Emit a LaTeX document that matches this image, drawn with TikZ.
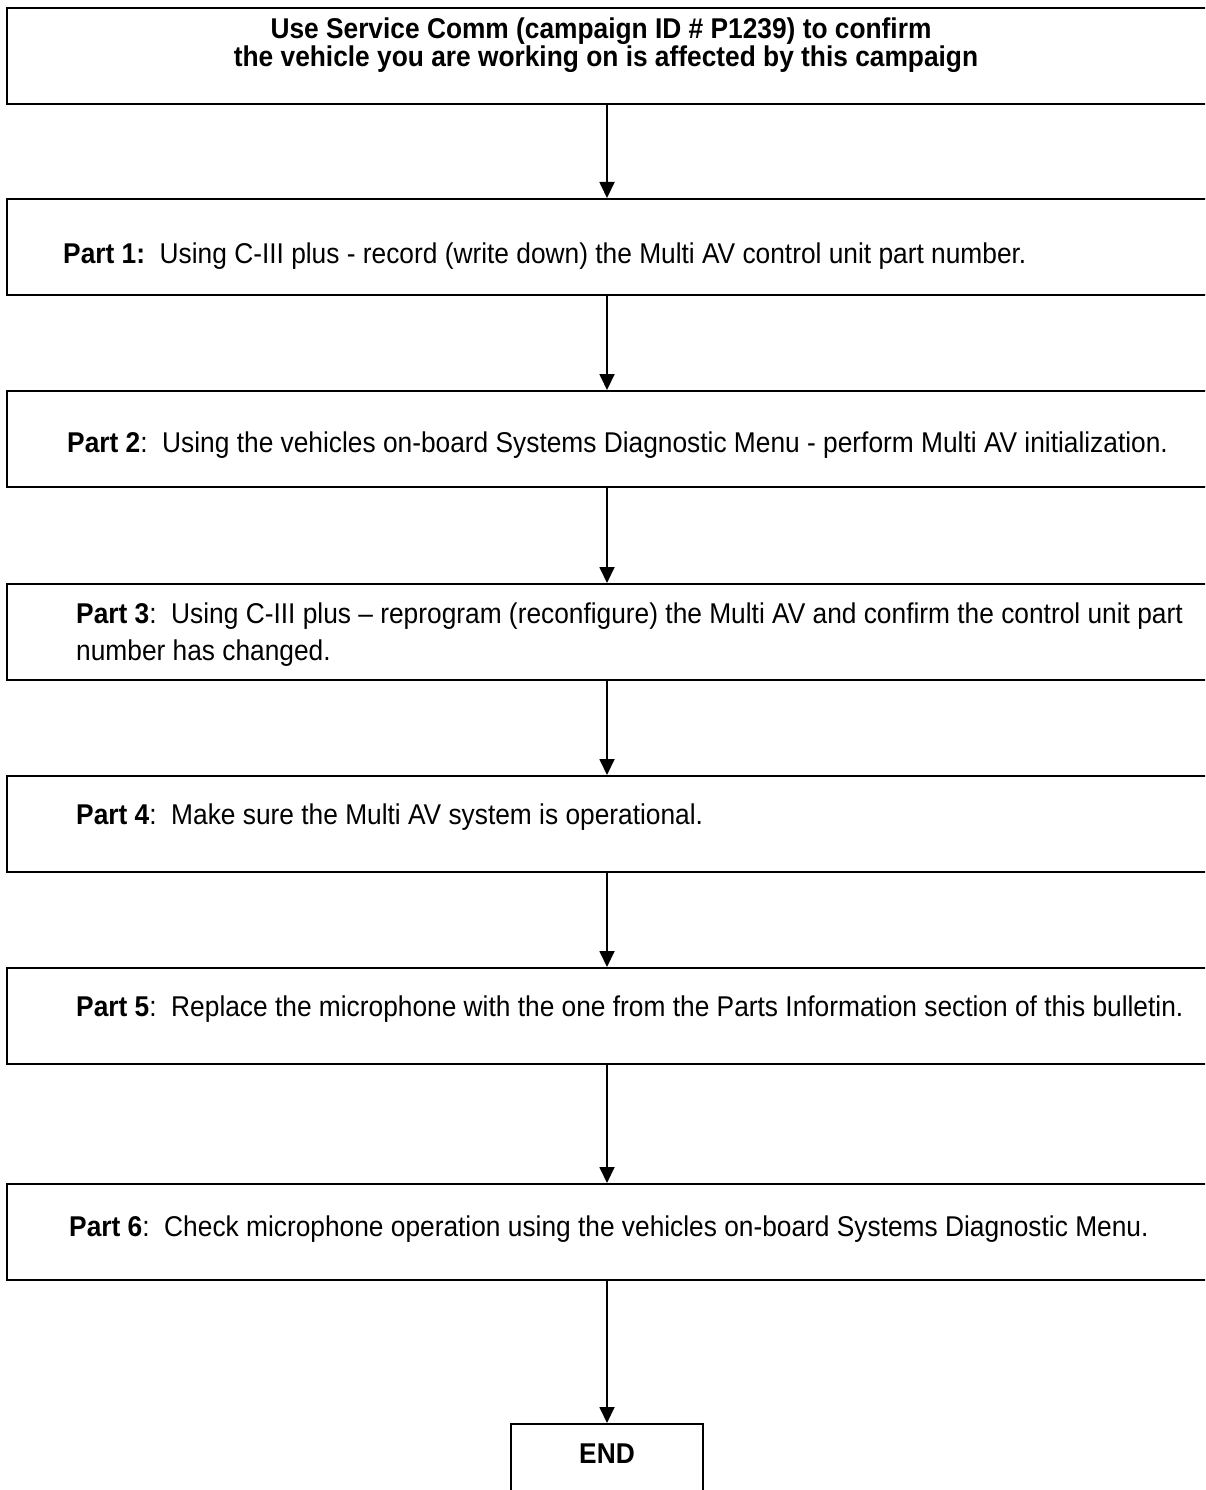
\documentclass[tikz,border=0pt]{standalone}
\usepackage{fontspec}
\setmainfont{Liberation Sans}[FakeStretch=0.92]
\usetikzlibrary{arrows.meta}
\begin{document}
\begin{tikzpicture}[x=1pt,y=1pt,
  stepbox/.style={draw, line width=1.8pt, rectangle, minimum width=1200pt, minimum height=96pt, inner sep=0pt},
  endbox/.style={draw, line width=1.8pt, rectangle, minimum width=192pt, minimum height=120pt, inner sep=0pt},
  txt/.style={inner sep=0pt, anchor=base west, font=\fontsize{28.6}{30}\selectfont},
  ctxt/.style={inner sep=0pt, anchor=base, font=\fontsize{28.6}{30}\selectfont\bfseries},
  arr/.style={line width=1.8pt, -{Triangle[length=16pt,width=15pt]}}
]
\useasboundingbox (0,0) rectangle (1205,-1490);
\clip (0,0) rectangle (1205,-1490);
\node[stepbox, anchor=north] (b0) at (607,-7) {};
\node[stepbox, anchor=north] (b1) at (607,-198) {};
\node[stepbox, anchor=north] (b2) at (607,-390) {};
\node[stepbox, anchor=north] (b3) at (607,-583) {};
\node[stepbox, anchor=north] (b4) at (607,-775) {};
\node[stepbox, anchor=north] (b5) at (607,-967) {};
\node[stepbox, anchor=north] (b6) at (607,-1183) {};
\node[endbox, anchor=north] (e) at (607,-1423) {};

\node[ctxt] (t0a) at (601,-39) {Use Service Comm (campaign ID \# P1239) to confirm};
\node[ctxt] (t0b) at (606,-67) {the vehicle you are working on is affected by this campaign};
\node[txt] (t1) at (63,-263) {\textbf{Part 1:}\ \ Using C-III plus - record (write down) the Multi AV control unit part number.};
\node[txt] (t2) at (67,-452) {\textbf{Part 2}:\ \ Using the vehicles on-board Systems Diagnostic Menu - perform Multi AV initialization.};
\node[txt] (t3a) at (76,-623) {\textbf{Part 3}:\ \ Using C-III plus -- reprogram (reconfigure) the Multi AV and confirm the control unit part};
\node[txt] (t3b) at (76,-660) {number has changed.};
\node[txt] (t4) at (76,-824) {\textbf{Part 4}:\ \ Make sure the Multi AV system is operational.};
\node[txt] (t5) at (76,-1016) {\textbf{Part 5}:\ \ Replace the microphone with the one from the Parts Information section of this bulletin.};
\node[txt] (t6) at (69,-1236) {\textbf{Part 6}:\ \ Check microphone operation using the vehicles on-board Systems Diagnostic Menu.};
\node[ctxt] (te) at (607,-1463) {END};

\draw[arr] (b0.south) -- (b1.north);
\draw[arr] (b1.south) -- (b2.north);
\draw[arr] (b2.south) -- (b3.north);
\draw[arr] (b3.south) -- (b4.north);
\draw[arr] (b4.south) -- (b5.north);
\draw[arr] (b5.south) -- (b6.north);
\draw[arr] (b6.south) -- (e.north);
\end{tikzpicture}
\end{document}
